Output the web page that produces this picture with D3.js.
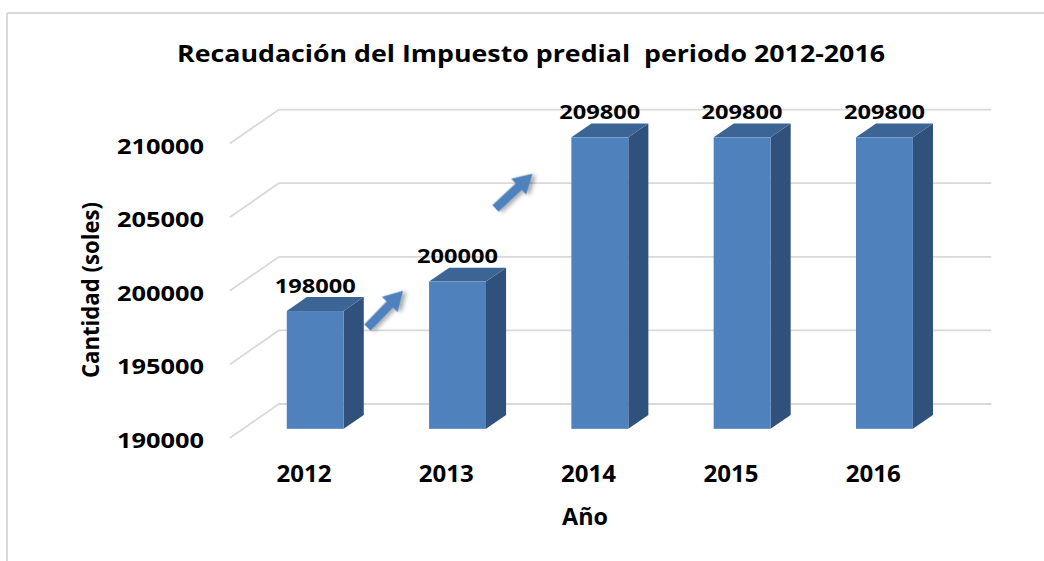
<!DOCTYPE html>
<html>
<head>
<meta charset="utf-8">
<script src="https://cdn.jsdelivr.net/npm/d3@7"></script>
<style>
  html, body { margin: 0; padding: 0; background: #ffffff; }
  #chart { width: 1044px; height: 561px; }
  text { font-family: "Open Sans", "Noto Sans", sans-serif; font-weight: bold; fill: #000; }
</style>
</head>
<body>
<div id="chart"></div>
<script>
// Recaudación del Impuesto predial 2012-2016 – 3D column chart

const years = ["2012", "2013", "2014", "2015", "2016"];
const recaudacion = [198000, 200000, 209800, 209800, 209800];
const yTicks = [190000, 195000, 200000, 205000, 210000];

const width = 1044;
const height = 561;

const svg = d3.select("#chart")
  .append("svg")
  .attr("width", width)
  .attr("height", height);

// drop shadow for the arrows
const defs = svg.append("defs");
const shadow = defs.append("filter")
  .attr("id", "arrowShadow")
  .attr("x", "-50%").attr("y", "-50%")
  .attr("width", "200%").attr("height", "200%");
shadow.append("feGaussianBlur").attr("in", "SourceAlpha").attr("stdDeviation", 2);
shadow.append("feOffset").attr("dx", 2).attr("dy", 3).attr("result", "off");
shadow.append("feComponentTransfer").append("feFuncA").attr("type", "linear").attr("slope", 0.35);
const merge = shadow.append("feMerge");
merge.append("feMergeNode");
merge.append("feMergeNode").attr("in", "SourceGraphic");

// chart frame (top and left edge only visible)
svg.append("line")
  .attr("x1", 7).attr("x2", width).attr("y1", 13).attr("y2", 13)
  .attr("stroke", "#d9d9d9").attr("stroke-width", 2);
svg.append("line")
  .attr("x1", 7).attr("x2", 7).attr("y1", 13).attr("y2", height)
  .attr("stroke", "#d9d9d9").attr("stroke-width", 2);

// front plane scales
const x = d3.scaleBand()
  .domain(years)
  .range([230.85, 942.35])
  .padding(0);

const y = d3.scaleLinear()
  .domain([190000, 210000])
  .range([438, 143.6]);

// oblique depth
const DX = 49, DY = -34;
const proj = (px, v, z) => [px + DX * z, y(v) + DY * z];

// gridlines: floor/side diagonal + back wall
const x0 = x.range()[0] - 1;
const x1 = x.range()[1];
const grid = svg.append("g");
yTicks.forEach(v => {
  grid.append("path")
    .attr("d", d3.line()([proj(x0, v, 0), proj(x0, v, 1), proj(x1, v, 1)]))
    .attr("fill", "none")
    .attr("stroke", "#d9d9d9")
    .attr("stroke-width", 1.8);
});

// y tick labels
svg.append("g")
  .selectAll("text")
  .data(yTicks)
  .join("text")
  .attr("x", 204)
  .attr("y", d => y(d) + 10)
  .attr("text-anchor", "end")
  .attr("font-size", 22)
  .attr("textLength", 87)
  .attr("lengthAdjust", "spacingAndGlyphs")
  .text(d => d);

// bars
const z0 = 0.27, z1 = 0.68;
const barW = x.bandwidth() * 0.4;
const base = y.domain()[0];
const bars = svg.append("g");

years.forEach((yr, i) => {
  const v = recaudacion[i];
  const left = x(yr) + (x.bandwidth() - barW) / 2;
  const right = left + barW;
  const g = bars.append("g");

  // side
  g.append("polygon")
    .attr("points", [proj(right, v, z0), proj(right, v, z1), proj(right, base, z1), proj(right, base, z0)].join(" "))
    .attr("fill", "#30517c");
  // top
  g.append("polygon")
    .attr("points", [proj(left, v, z0), proj(right, v, z0), proj(right, v, z1), proj(left, v, z1)].join(" "))
    .attr("fill", "#3c6595");
  // front
  const p1 = proj(left, v, z0);
  const p2 = proj(right, base, z0);
  g.append("rect")
    .attr("x", p1[0])
    .attr("y", p1[1])
    .attr("width", p2[0] - p1[0])
    .attr("height", p2[1] - p1[1])
    .attr("fill", "#4f81bd");

  // data label
  svg.append("text")
    .attr("x", (p1[0] + p2[0]) / 2)
    .attr("y", p1[1] - 18.5)
    .attr("text-anchor", "middle")
    .attr("font-size", 20)
    .attr("textLength", 81)
    .attr("lengthAdjust", "spacingAndGlyphs")
    .text(v);
});

// x tick labels
svg.append("g")
  .selectAll("text")
  .data(years)
  .join("text")
  .attr("x", d => x(d) + x.bandwidth() / 2 + 2)
  .attr("y", 482)
  .attr("text-anchor", "middle")
  .attr("font-size", 23)
  .attr("textLength", 55)
  .attr("lengthAdjust", "spacingAndGlyphs")
  .text(d => d);

// annotation arrows (slot position along x, value along y)
const arrows = [
  { from: [0.96, 197500], to: [1.21, 200000] },
  { from: [1.86, 205600], to: [2.12, 207950] }
];
const slotX = s => x.range()[0] + s * x.step();

arrows.forEach(a => {
  const tx = slotX(a.from[0]), ty = y(a.from[1]);
  const hx = slotX(a.to[0]), hy = y(a.to[1]);
  const len = Math.hypot(hx - tx, hy - ty);
  const ang = Math.atan2(hy - ty, hx - tx) * 180 / Math.PI;
  const headL = 19, headW = 11, shaftW = 4.5;
  const pts = [
    [0, -shaftW], [len - headL, -shaftW], [len - headL, -headW],
    [len, 0],
    [len - headL, headW], [len - headL, shaftW], [0, shaftW]
  ];
  svg.append("polygon")
    .attr("points", pts.join(" "))
    .attr("transform", `translate(${tx},${ty}) rotate(${ang})`)
    .attr("fill", "#4f81bd")
    .attr("filter", "url(#arrowShadow)");
});

// titles
svg.append("text")
  .attr("x", 531)
  .attr("y", 62)
  .attr("text-anchor", "middle")
  .attr("font-size", 24)
  .attr("textLength", 708)
  .attr("lengthAdjust", "spacingAndGlyphs")
  .style("white-space", "pre")
  .text("Recaudación del Impuesto predial  periodo 2012-2016");

svg.append("text")
  .attr("x", 585)
  .attr("y", 525)
  .attr("text-anchor", "middle")
  .attr("font-size", 23)
  .attr("textLength", 46)
  .attr("lengthAdjust", "spacingAndGlyphs")
  .text("Año");

svg.append("text")
  .attr("transform", "translate(99,290) rotate(-90)")
  .attr("text-anchor", "middle")
  .attr("font-size", 23)
  .attr("textLength", 176)
  .attr("lengthAdjust", "spacingAndGlyphs")
  .text("Cantidad (soles)");
</script>
</body>
</html>
